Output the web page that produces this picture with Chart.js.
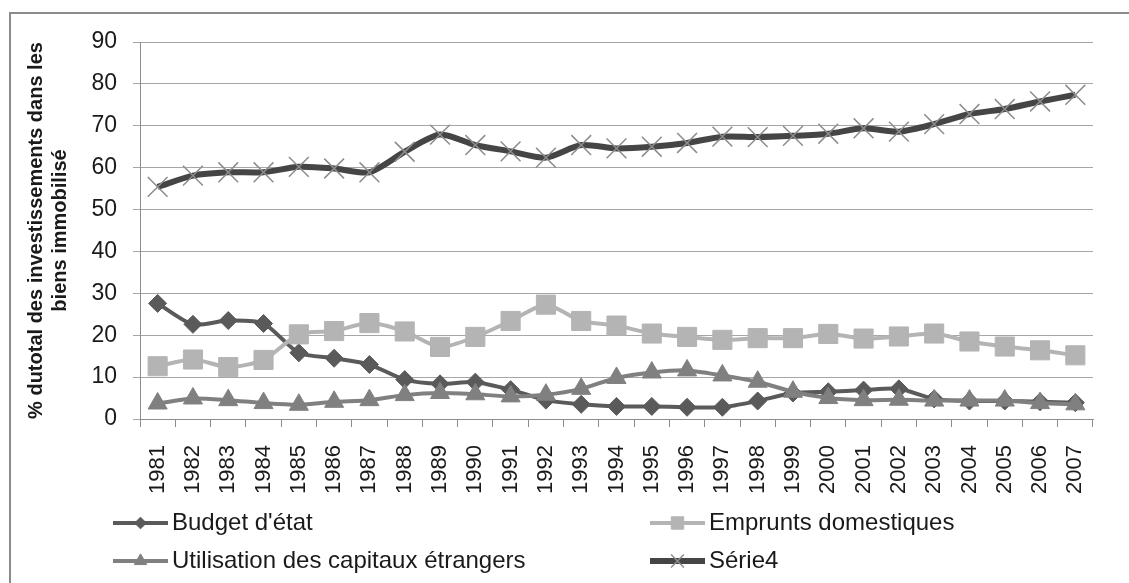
<!DOCTYPE html>
<html>
<head>
<meta charset="utf-8">
<script src="https://cdn.jsdelivr.net/npm/chart.js@4.4.1/dist/chart.umd.min.js"></script>
<style>
  html, body { margin: 0; padding: 0; background: #fff; }
  #wrap { position: relative; width: 1129px; height: 583px; overflow: hidden; }
  #frame { position: absolute; left: 9px; top: 12px; width: 1140px; height: 600px;
           border: 2px solid #8c8c8c; box-sizing: border-box; }
  #chart { position: absolute; left: 0; top: 0; }
</style>
</head>
<body>
<div id="wrap">
  <div id="frame"></div>
  <canvas id="chart" width="1129" height="583"></canvas>
</div>
<script>
// ---- data ----
const years = ["1981", "1982", "1983", "1984", "1985", "1986", "1987", "1988", "1989",
  "1990", "1991", "1992", "1993", "1994", "1995", "1996", "1997", "1998", "1999",
  "2000", "2001", "2002", "2003", "2004", "2005", "2006", "2007"];

const budgetEtat = [27.6, 22.6, 23.5, 22.8, 15.8, 14.5, 13.0, 9.4, 8.4,
  8.8, 7.0, 4.5, 3.5, 3.0, 3.0, 2.8, 2.8, 4.3, 6.2,
  6.5, 6.9, 7.2, 4.8, 4.3, 4.3, 4.1, 3.9];

const empruntsDomestiques = [12.6, 14.2, 12.4, 14.1, 20.2, 21.0, 22.9, 20.9, 17.2,
  19.6, 23.4, 27.3, 23.4, 22.3, 20.4, 19.6, 18.9, 19.3, 19.3,
  20.3, 19.2, 19.7, 20.4, 18.5, 17.3, 16.4, 15.2];

const capitauxEtrangers = [3.7, 4.9, 4.5, 3.8, 3.4, 4.1, 4.5, 5.7, 6.2,
  5.9, 5.4, 5.8, 7.2, 9.8, 11.1, 11.6, 10.4, 8.9, 6.5,
  5.0, 4.5, 4.6, 4.4, 4.4, 4.4, 3.8, 3.5];

const serie4 = [55.4, 58.1, 58.9, 58.9, 60.2, 59.8, 58.9, 63.8, 67.9,
  65.4, 63.9, 62.4, 65.4, 64.6, 65.0, 65.9, 67.4, 67.3, 67.6,
  68.1, 69.4, 68.6, 70.4, 72.8, 74.0, 75.8, 77.4];

const seriesNames = ["Budget d'état", "Emprunts domestiques",
  "Utilisation des capitaux étrangers", "Série4"];

const yTitle = ["% dutotal des investissements dans les", "biens immobilisé"];

// ---- styling ----
const SANS = "'Liberation Sans', Arial, sans-serif";
const NARROW = "'Liberation Sans Narrow', 'Liberation Sans', Arial, sans-serif";

// Excel-like two column legend under the axis (Chart.js legend only does rows)
const gridLegend = {
  id: "gridLegend",
  afterDraw(chart) {
    const ctx = chart.ctx;
    const slots = [[113, 523], [650, 523], [113, 561], [650, 561]];
    chart.data.datasets.forEach((ds, i) => {
      const [x, y] = slots[i];
      ctx.save();
      ctx.strokeStyle = ds.borderColor;
      ctx.lineWidth = ds.borderWidth;
      ctx.beginPath();
      ctx.moveTo(x, y);
      ctx.lineTo(x + 55, y);
      ctx.stroke();

      // drawPoint takes its colours from the context
      ctx.fillStyle = ds.pointBackgroundColor;
      ctx.strokeStyle = ds.pointBorderColor;
      ctx.lineWidth = ds.pointBorderWidth;
      Chart.helpers.drawPoint(ctx, {
        pointStyle: ds.pointStyle,
        radius: ds.pointRadius * 0.65,
        borderWidth: ds.pointBorderWidth,
      }, x + 27.5, y);

      ctx.fillStyle = "#1a1a1a";
      ctx.font = "24px " + NARROW;
      ctx.textBaseline = "middle";
      ctx.fillText(ds.label, x + 59, y);
      ctx.restore();
    });
  },
};

new Chart(document.getElementById("chart"), {
  type: "line",
  data: {
    labels: years,
    datasets: [
      {
        label: seriesNames[0],
        data: budgetEtat,
        borderColor: "#5a5a5a",
        backgroundColor: "#5a5a5a",
        pointBackgroundColor: "#5a5a5a",
        pointBorderColor: "#5a5a5a",
        borderWidth: 4,
        pointStyle: "rectRot",
        pointRadius: 9,
        pointBorderWidth: 1,
        order: 3,
      },
      {
        label: seriesNames[1],
        data: empruntsDomestiques,
        borderColor: "#b4b4b4",
        backgroundColor: "#b4b4b4",
        pointBackgroundColor: "#b4b4b4",
        pointBorderColor: "#b4b4b4",
        borderWidth: 4,
        pointStyle: "rect",
        pointRadius: 13.5,
        pointBorderWidth: 1,
        order: 2,
      },
      {
        label: seriesNames[2],
        data: capitauxEtrangers,
        borderColor: "#808080",
        backgroundColor: "#808080",
        pointBackgroundColor: "#808080",
        pointBorderColor: "#808080",
        borderWidth: 4,
        pointStyle: "triangle",
        pointRadius: 11,
        pointBorderWidth: 1,
        order: 1,
      },
      {
        label: seriesNames[3],
        data: serie4,
        borderColor: "#454545",
        backgroundColor: "#454545",
        pointBackgroundColor: "#8c8c8c",
        pointBorderColor: "#8c8c8c",
        borderWidth: 6,
        pointStyle: "crossRot",
        pointRadius: 14,
        pointBorderWidth: 1.5,
        order: 0,
      },
    ],
  },
  options: {
    responsive: false,
    animation: false,
    events: [],
    elements: { line: { tension: 0.25 } },
    layout: { padding: { left: 0, top: 42, right: 36, bottom: 84 } },
    plugins: {
      legend: { display: false },
      tooltip: { enabled: false },
    },
    scales: {
      x: {
        offset: true,
        grid: { offset: true, drawOnChartArea: false, tickLength: 8, color: "#8c8c8c" },
        border: { color: "#8c8c8c" },
        ticks: {
          autoSkip: false,
          minRotation: 90,
          maxRotation: 90,
          padding: 18,
          color: "#1a1a1a",
          font: { family: SANS, size: 22 },
        },
        afterFit: (s) => { s.height = 80; },
      },
      y: {
        min: 0,
        max: 90,
        ticks: {
          stepSize: 10,
          padding: 16,
          color: "#1a1a1a",
          font: { family: SANS, size: 23 },
        },
        grid: { color: "#a6a6a6", tickLength: 7 },
        border: { color: "#8c8c8c" },
        title: {
          display: true,
          text: yTitle,
          color: "#1a1a1a",
          font: { family: NARROW, size: 20, weight: "bold", lineHeight: 1.2 },
          padding: { top: 24, bottom: 0 },
        },
        afterFit: (s) => { s.width = 140; },
      },
    },
  },
  plugins: [gridLegend],
});
</script>
</body>
</html>
